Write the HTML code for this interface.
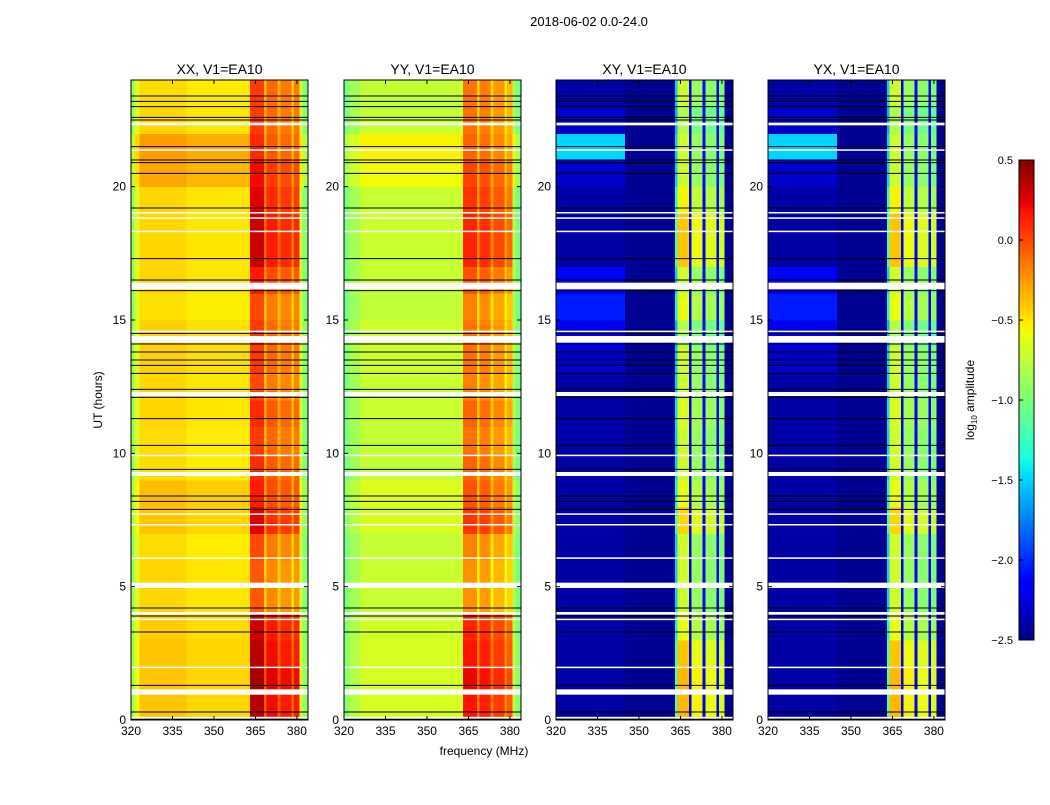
<!DOCTYPE html>
<html><head><meta charset="utf-8"><style>
body{margin:0;background:#fff;font-family:"Liberation Sans",sans-serif;}
svg text{font-family:"Liberation Sans",sans-serif;}
</style></head><body>
<svg id="fig" width="1050" height="800" xmlns="http://www.w3.org/2000/svg">
<text x="589" y="26" font-size="13" text-anchor="middle">2018-06-02 0.0-24.0</text>
<text x="484" y="755" font-size="12" text-anchor="middle">frequency (MHz)</text>
<text transform="translate(102,400) rotate(-90)" font-size="12" text-anchor="middle">UT (hours)</text>
<text transform="translate(974,400) rotate(-90)" font-size="12" text-anchor="middle">log<tspan font-size="8" dy="3">10</tspan><tspan dy="-3"> amplitude</tspan></text>
<g id="plots"></g>
</svg>
<script>
// ---- data ----
const panelTitles = ["XX, V1=EA10","YY, V1=EA10","XY, V1=EA10","YX, V1=EA10"];
const xTicks = [320,335,350,365,380];
const yTicks = [0,5,10,15,20];
const cbTicks = [0.5,0.0,-0.5,-1.0,-1.5,-2.0,-2.5];
// frequency profiles (log10 amp) segments [startMHz,endMHz,value]
const freqXX = [[320,321,-0.95],[321,323,-0.65],[323,340,-0.45],[340,363,-0.5],[363,368,0.1],[368,369,-0.3],[369,373,-0.05],[373,374,-0.3],[374,378,-0.1],[378,379,-0.35],[379,381,-0.1],[381,382,-0.7],[382,384,-0.95]];
const freqYY = [[320,322,-1.0],[322,326,-0.85],[326,363,-0.72],[363,368,-0.08],[368,369,-0.4],[369,373,-0.12],[373,374,-0.4],[374,378,-0.2],[378,379,-0.45],[379,381,-0.3],[381,382,-0.8],[382,384,-1.0]];
const freqXY = [[320,345,-2.4],[345,363,-2.45],[363,364,-1.5],[364,368,-0.7],[368,369,-2.2],[369,373,-0.9],[373,374,-2.2],[374,378,-0.95],[378,379,-2.2],[379,381,-1.0],[381,384,-2.45]];
const freqYX = freqXY;
// hourly offsets (0..23h)
const timePar = [0.05,0.05,0.05,0.03,0,0,-0.02,0.05,0.08,-0.02,-0.02,0,0,0.02,0.02,-0.03,0,0,0,0,0.15,0.18,0,-0.02];
const activePar = [0.25,0.3,0.25,0.2,-0.15,-0.15,-0.1,0.15,0.05,0,-0.05,0,-0.1,-0.05,-0.05,-0.1,0.05,0.2,0.2,0.15,0.1,0,-0.05,-0.05];
const timeCross = [0,0,0,0,0,0,0,0,0,0,0,0,0,0.1,0.2,0.35,0.25,0,0,0,0.1,0.9,0.1,0];
const activeCross = [0.35,0.35,0.3,0.1,0,0,0,0.25,0.1,0,0,0.05,0,0,-0.1,0.1,0,0.3,0.3,0.15,0,0,-0.1,0];
// flagged (white) intervals in hours
const flagged = [[0.05,0.12],[0.95,1.15],[1.95,2.0],[3.75,3.8],[3.95,4.05],[4.95,5.15],[6.05,6.1],[7.3,7.35],[7.7,7.75],[9.15,9.3],[9.9,9.95],[12.15,12.3],[14.15,14.4],[14.55,14.6],[16.15,16.4],[18.3,18.35],[18.8,18.85],[19.0,19.05],[21.35,21.4],[22.3,22.4]];
// black separator lines (hours)
const blackLines = [0.03,0.3,1.3,3.3,3.9,4.2,7.9,8.2,8.4,9.4,10.3,11.3,12.1,12.4,13.0,13.3,13.5,13.8,14.1,14.5,16.1,16.5,17.3,19.2,20.5,20.9,21.0,21.5,22.5,22.6,23.0,23.2,23.4];
const freqs = [freqXX,freqYY,freqXY,freqYX];
const timeOff = [timePar,timePar,timeCross,timeCross];
const actOff = [activePar,activePar,activeCross,activeCross];

// ---- drawing ----
const NS="http://www.w3.org/2000/svg";
const plots=document.getElementById('plots');
const panelX=[131,344,556,768], PW=177, PT=80, PH=640;
const fMin=320,fMax=384,tMax=24;
function xS(p,f){return panelX[p]+(f-fMin)/(fMax-fMin)*PW;}
function yS(t){return PT+PH-(t/tMax)*PH;}
function interp(pts,x){for(let i=1;i<pts.length;i++){if(x<=pts[i][0]){const a=pts[i-1],b=pts[i];return a[1]+(b[1]-a[1])*(x-a[0])/(b[0]-a[0]);}}return pts[pts.length-1][1];}
const RJ=[[0,0],[0.35,0],[0.66,1],[0.89,1],[1,0.5]];
const GJ=[[0,0],[0.125,0],[0.375,1],[0.64,1],[0.91,0],[1,0]];
const BJ=[[0,0.5],[0.11,1],[0.34,1],[0.65,0],[1,0]];
function jet(v){let x=(v+2.5)/3;x=Math.max(0,Math.min(1,x));
 return `rgb(${Math.round(255*interp(RJ,x))},${Math.round(255*interp(GJ,x))},${Math.round(255*interp(BJ,x))})`;}
function mk(tag,attrs,parent){const e=document.createElementNS(NS,tag);for(const k in attrs)e.setAttribute(k,attrs[k]);(parent||plots).appendChild(e);return e;}
for(let p=0;p<4;p++){
 const g=mk('g',{});
 
 
 for(let h=0;h<tMax;h++){
  for(const s of freqs[p]){
   const active=s[0]>=363&&s[1]<=381&&(p<2||s[2]>-2);
   let base=0;
   if(!active){ base = (p<2) ? timeOff[p][h] : (s[1]<=345 ? timeOff[p][h] : 0); }
   const v=s[2]+base+(active?actOff[p][h]:0);
   const r=mk('rect',{x:xS(p,s[0]),y:yS(h+1),width:xS(p,s[1])-xS(p,s[0])+0.5,height:PH/tMax+0.5,fill:jet(v),'shape-rendering':'crispEdges'},g);
   
   
  }
 }
 for(const fl of flagged){
  const r=mk('rect',{x:panelX[p],y:yS(fl[1]),width:PW,height:Math.max(1.5,yS(fl[0])-yS(fl[1])),fill:'#fff'},g);
  
  
 }
 for(const b of blackLines){
  const l=mk('line',{x1:panelX[p],x2:panelX[p]+PW,y1:yS(b),y2:yS(b),stroke:'#000','stroke-width':1},g);
  
  
 }
 const fr=mk('rect',{x:panelX[p],y:PT,width:PW,height:PH,fill:'none',stroke:'#000','stroke-width':1});
 
 
 const t=mk('text',{x:panelX[p]+PW/2,y:74,'font-size':14,'text-anchor':'middle'});
 t.textContent=panelTitles[p];
 
 
 for(const xt of xTicks){const x=xS(p,xt);
  mk('line',{x1:x,x2:x,y1:PT+PH,y2:PT+PH-4,stroke:'#000'});mk('line',{x1:x,x2:x,y1:PT,y2:PT+4,stroke:'#000'});
  const tl=mk('text',{x:x,y:PT+PH+15,'font-size':12,'text-anchor':'middle'});tl.textContent=xt;
  
  }
 for(const yt of yTicks){const y=yS(yt);
  mk('line',{x1:panelX[p],x2:panelX[p]+4,y1:y,y2:y,stroke:'#000'});mk('line',{x1:panelX[p]+PW,x2:panelX[p]+PW-4,y1:y,y2:y,stroke:'#000'});
  const tl=mk('text',{x:panelX[p]-5,y:y+4,'font-size':12,'text-anchor':'end'});tl.textContent=yt;
  
  }
}
// colorbar
const cb=mk('g',{});


const CBX=1019,CBW=15,CBT=160,CBH=480;
for(let i=0;i<160;i++){const v=0.5-3*(i+0.5)/160;
 mk('rect',{x:CBX,y:CBT+i*CBH/160,width:CBW,height:CBH/160+0.6,fill:jet(v),'shape-rendering':'crispEdges'},cb);}
mk('rect',{x:CBX,y:CBT,width:CBW,height:CBH,fill:'none',stroke:'#000'},cb);
for(const v of cbTicks){const y=CBT+(0.5-v)/3*CBH;
 mk('line',{x1:CBX,x2:CBX+4,y1:y,y2:y,stroke:'#000'},cb);
 const tl=mk('text',{x:CBX-6,y:y+4,'font-size':11,'text-anchor':'end'},cb);tl.textContent=(v<0?'\u2212':'')+Math.abs(v).toFixed(1);
 
 }
</script>
</body></html>
